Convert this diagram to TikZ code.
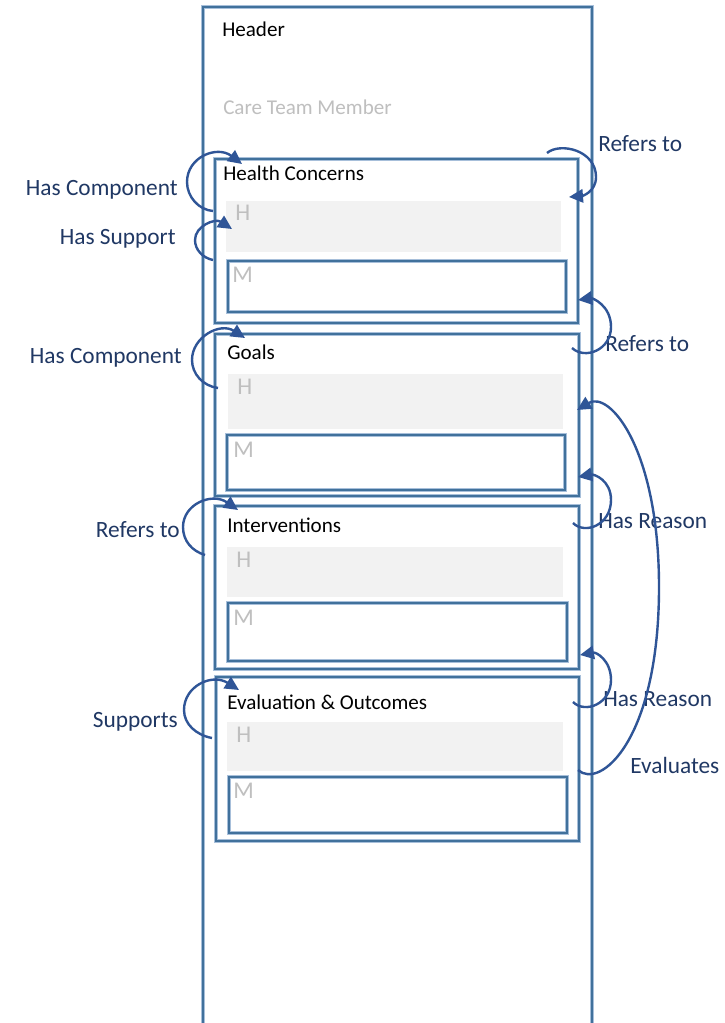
\documentclass[tikz,border=0pt]{standalone}
\usepackage{fontspec}
\setmainfont{Carlito}
\usetikzlibrary{arrows.meta,fit}
\definecolor{boxblue}{HTML}{41719C}
\definecolor{boxhalo}{HTML}{A7BFDA}
\definecolor{arcblue}{HTML}{2F5597}
\definecolor{labnavy}{HTML}{203864}
\definecolor{grayfill}{HTML}{F2F2F2}
\definecolor{graytext}{HTML}{BFBFBF}
\begin{document}
\begin{tikzpicture}[x=0.75pt,y=-0.75pt,
  frameline/.style={draw=boxblue, line width=1.6pt, preaction={draw=boxhalo, line width=2.6pt}},
  secbox/.style={frameline, inner sep=0pt},
  hbox/.style={fill=grayfill, draw=none, inner sep=0pt},
  mbox/.style={frameline, inner sep=0pt},
  title/.style={anchor=base west, inner sep=0pt, font=\fontsize{15.8}{19}\selectfont, text=black},
  hm/.style={anchor=base west, inner sep=0pt, font=\fontsize{18}{21}\selectfont, text=graytext},
  lab/.style={inner sep=0pt, font=\fontsize{17.5}{21}\selectfont, text=labnavy},
  rel/.style={draw=arcblue, line width=1.8pt, -{Triangle[length=10.5pt,width=10pt]}}
]
\useasboundingbox (0,0) rectangle (724,1023);
\fill[white] (0,0) rectangle (724,1023);
% outer frame (open at the bottom)
\draw[frameline] (203,1023) -- (203,7) -- (592,7) -- (592,1023);

% header texts
\node[title] (hdr) at (222,37) {Header};
\node[title, text=graytext] (ctm) at (223,115) {Care Team Member};

% Health Concerns
\node[secbox, fit={(215,159)(578,323)}] (hc) {};
\node[hbox, fit={(226,201)(561,252)}] (hch) {};
\node[mbox, fit={(228,261)(566,312)}] (hcm) {};
\node[title] (hct) at (223,181) {Health Concerns};
\node[hm] (hchl) at (235,221) {H};
\node[hm] (hcml) at (232,283) {M};

% Goals
\node[secbox, fit={(215,334)(579,496)}] (go) {};
\node[hbox, fit={(228,374)(563,429)}] (goh) {};
\node[mbox, fit={(227,435)(565,490)}] (gom) {};
\node[title] (got) at (227,359) {Goals};
\node[hm] (gohl) at (237,394) {H};
\node[hm] (goml) at (233,457) {M};

% Interventions
\node[secbox, fit={(215,506)(579,669)}] (iv) {};
\node[hbox, fit={(227,547)(563,597)}] (ivh) {};
\node[mbox, fit={(228,603)(567,661)}] (ivm) {};
\node[title] (ivt) at (227,532) {Interventions};
\node[hm] (ivhl) at (236,567) {H};
\node[hm] (ivml) at (233,625) {M};

% Evaluation & Outcomes
\node[secbox, fit={(216,677)(579,841)}] (ev) {};
\node[hbox, fit={(227,722)(563,771)}] (evh) {};
\node[mbox, fit={(229,777)(567,833)}] (evm) {};
\node[title] (evt) at (227,709) {Evaluation \& Outcomes};
\node[hm] (evhl) at (236,742) {H};
\node[hm] (evml) at (233,798) {M};

% left labels
\node[lab, anchor=base east] (l1) at (178,196) {Has Component};
\node[lab, anchor=base east] (l2) at (176,245) {Has Support};
\node[lab, anchor=base east] (l3) at (182,363) {Has Component};
\node[lab, anchor=base east] (l4) at (180,537) {Refers to};
\node[lab, anchor=base east] (l5) at (178,727) {Supports};

% right labels
\node[lab, anchor=base west] (r1) at (598,152) {Refers to};
\node[lab, anchor=base west] (r2) at (605,351) {Refers to};
\node[lab, anchor=base west] (r3) at (598,528) {Has Reason};
\node[lab, anchor=base west] (r4) at (603,706) {Has Reason};
\node[lab, anchor=base west] (r5) at (630,773) {Evaluates};

% left arcs
\coordinate (a1s) at (213,211); \coordinate (a1t) at (242,164);
\draw[rel] (a1s) .. controls (199,210) and (187,197) .. (187,182) .. controls (187,157) and (217,145) .. (a1t);
\coordinate (a2s) at (213,260); \coordinate (a2t) at (232,229);
\draw[rel] (a2s) .. controls (203,258) and (195,250) .. (195,240) .. controls (195,226) and (215,218) .. (a2t);
\coordinate (a3s) at (218,388); \coordinate (a3t) at (245,338);
\draw[rel] (a3s) .. controls (203,386) and (192,374) .. (192,360) .. controls (192,337) and (220,322) .. (a3t);
\coordinate (a4s) at (205,555); \coordinate (a4t) at (238,510);
\draw[rel] (a4s) .. controls (192,551) and (183,541) .. (183,527) .. controls (183,504) and (212,492) .. (a4t);
\coordinate (a5s) at (212,738); \coordinate (a5t) at (239,690);
\draw[rel] (a5s) .. controls (196,735) and (184,724) .. (184,710) .. controls (184,686) and (212,673) .. (a5t);

% right arcs
\coordinate (b1s) at (547,153); \coordinate (b1t) at (569,197);
\draw[rel] (b1s) .. controls (560,142) and (596,150) .. (596,177) .. controls (596,192) and (582,196) .. (b1t);
\coordinate (b2s) at (572,348); \coordinate (b2t) at (578,300);
\draw[rel] (b2s) .. controls (585,360) and (611,350) .. (611,327) .. controls (611,305) and (592,298) .. (b2t);
\coordinate (b3s) at (578,770); \coordinate (b3t) at (577,410);
\draw[rel] (b3s) .. controls (600,790) and (659,740) .. (659,587) .. controls (659,450) and (610,390) .. (b3t);
\coordinate (b4s) at (573,523); \coordinate (b4t) at (578,477);
\draw[rel] (b4s) .. controls (585,535) and (611,525) .. (611,500) .. controls (611,480) and (594,474) .. (b4t);
\coordinate (b5s) at (573,702); \coordinate (b5t) at (580,655);
\draw[rel] (b5s) .. controls (585,714) and (611,704) .. (611,680) .. controls (611,660) and (596,652) .. (b5t);
\end{tikzpicture}
\end{document}
